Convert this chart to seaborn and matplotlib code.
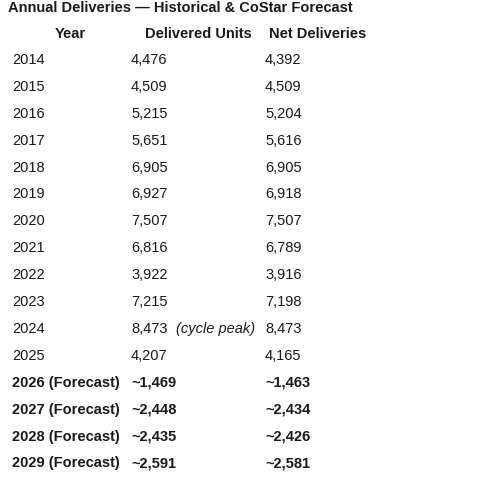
import matplotlib
matplotlib.use("Agg")
import matplotlib.pyplot as plt
import seaborn as sns

sns.set_style("white")
plt.rcParams['font.family'] = ['Liberation Sans', 'DejaVu Sans']

title = "Annual Deliveries — Historical & CoStar Forecast"
headers = ["Year", "Delivered Units", "Net Deliveries"]
years = ["2014", "2015", "2016", "2017", "2018", "2019", "2020", "2021", "2022", "2023",
         "2024", "2025", "2026 (Forecast)", "2027 (Forecast)", "2028 (Forecast)", "2029 (Forecast)"]
delivered = ["4,476", "4,509", "5,215", "5,651", "6,905", "6,927", "7,507", "6,816", "3,922", "7,215",
             "8,473", "4,207", "~1,469", "~2,448", "~2,435", "~2,591"]
net = ["4,392", "4,509", "5,204", "5,616", "6,905", "6,918", "7,507", "6,789", "3,916", "7,198",
       "8,473", "4,165", "~1,463", "~2,434", "~2,426", "~2,581"]
notes = {"2024": "(cycle peak)"}
forecast = [False]*12 + [True]*4

fig = plt.figure(figsize=(5.0, 4.8), dpi=100)
ax = fig.add_axes([0, 0, 1, 1])
ax.set_xlim(0, 500)
ax.set_ylim(480, 0)
ax.axis("off")

txt = "#1a1a1a"
ax.text(8, 8, title, fontsize=10.5, fontweight="bold", color=txt, va="center", ha="left")
hx = [70, 198, 318]
for h, x in zip(headers, hx):
    ax.text(x, 34, h, fontsize=10.5, fontweight="bold", color=txt, va="center", ha="center")

y0, dy = 60, 26.9
for i, (yr, d, n, f) in enumerate(zip(years, delivered, net, forecast)):
    y = y0 + i * dy
    w = "bold" if f else "normal"
    ax.text(12, y, yr, fontsize=10.5, fontweight=w, color=txt, va="center")
    ax.text(131, y, d, fontsize=10.5, fontweight=w, color=txt, va="center")
    if yr in notes:
        ax.text(176, y, notes[yr], fontsize=10.5, style="italic", color=txt, va="center")
    ax.text(265, y, n, fontsize=10.5, fontweight=w, color=txt, va="center")

fig.savefig("out.png", dpi=100)
